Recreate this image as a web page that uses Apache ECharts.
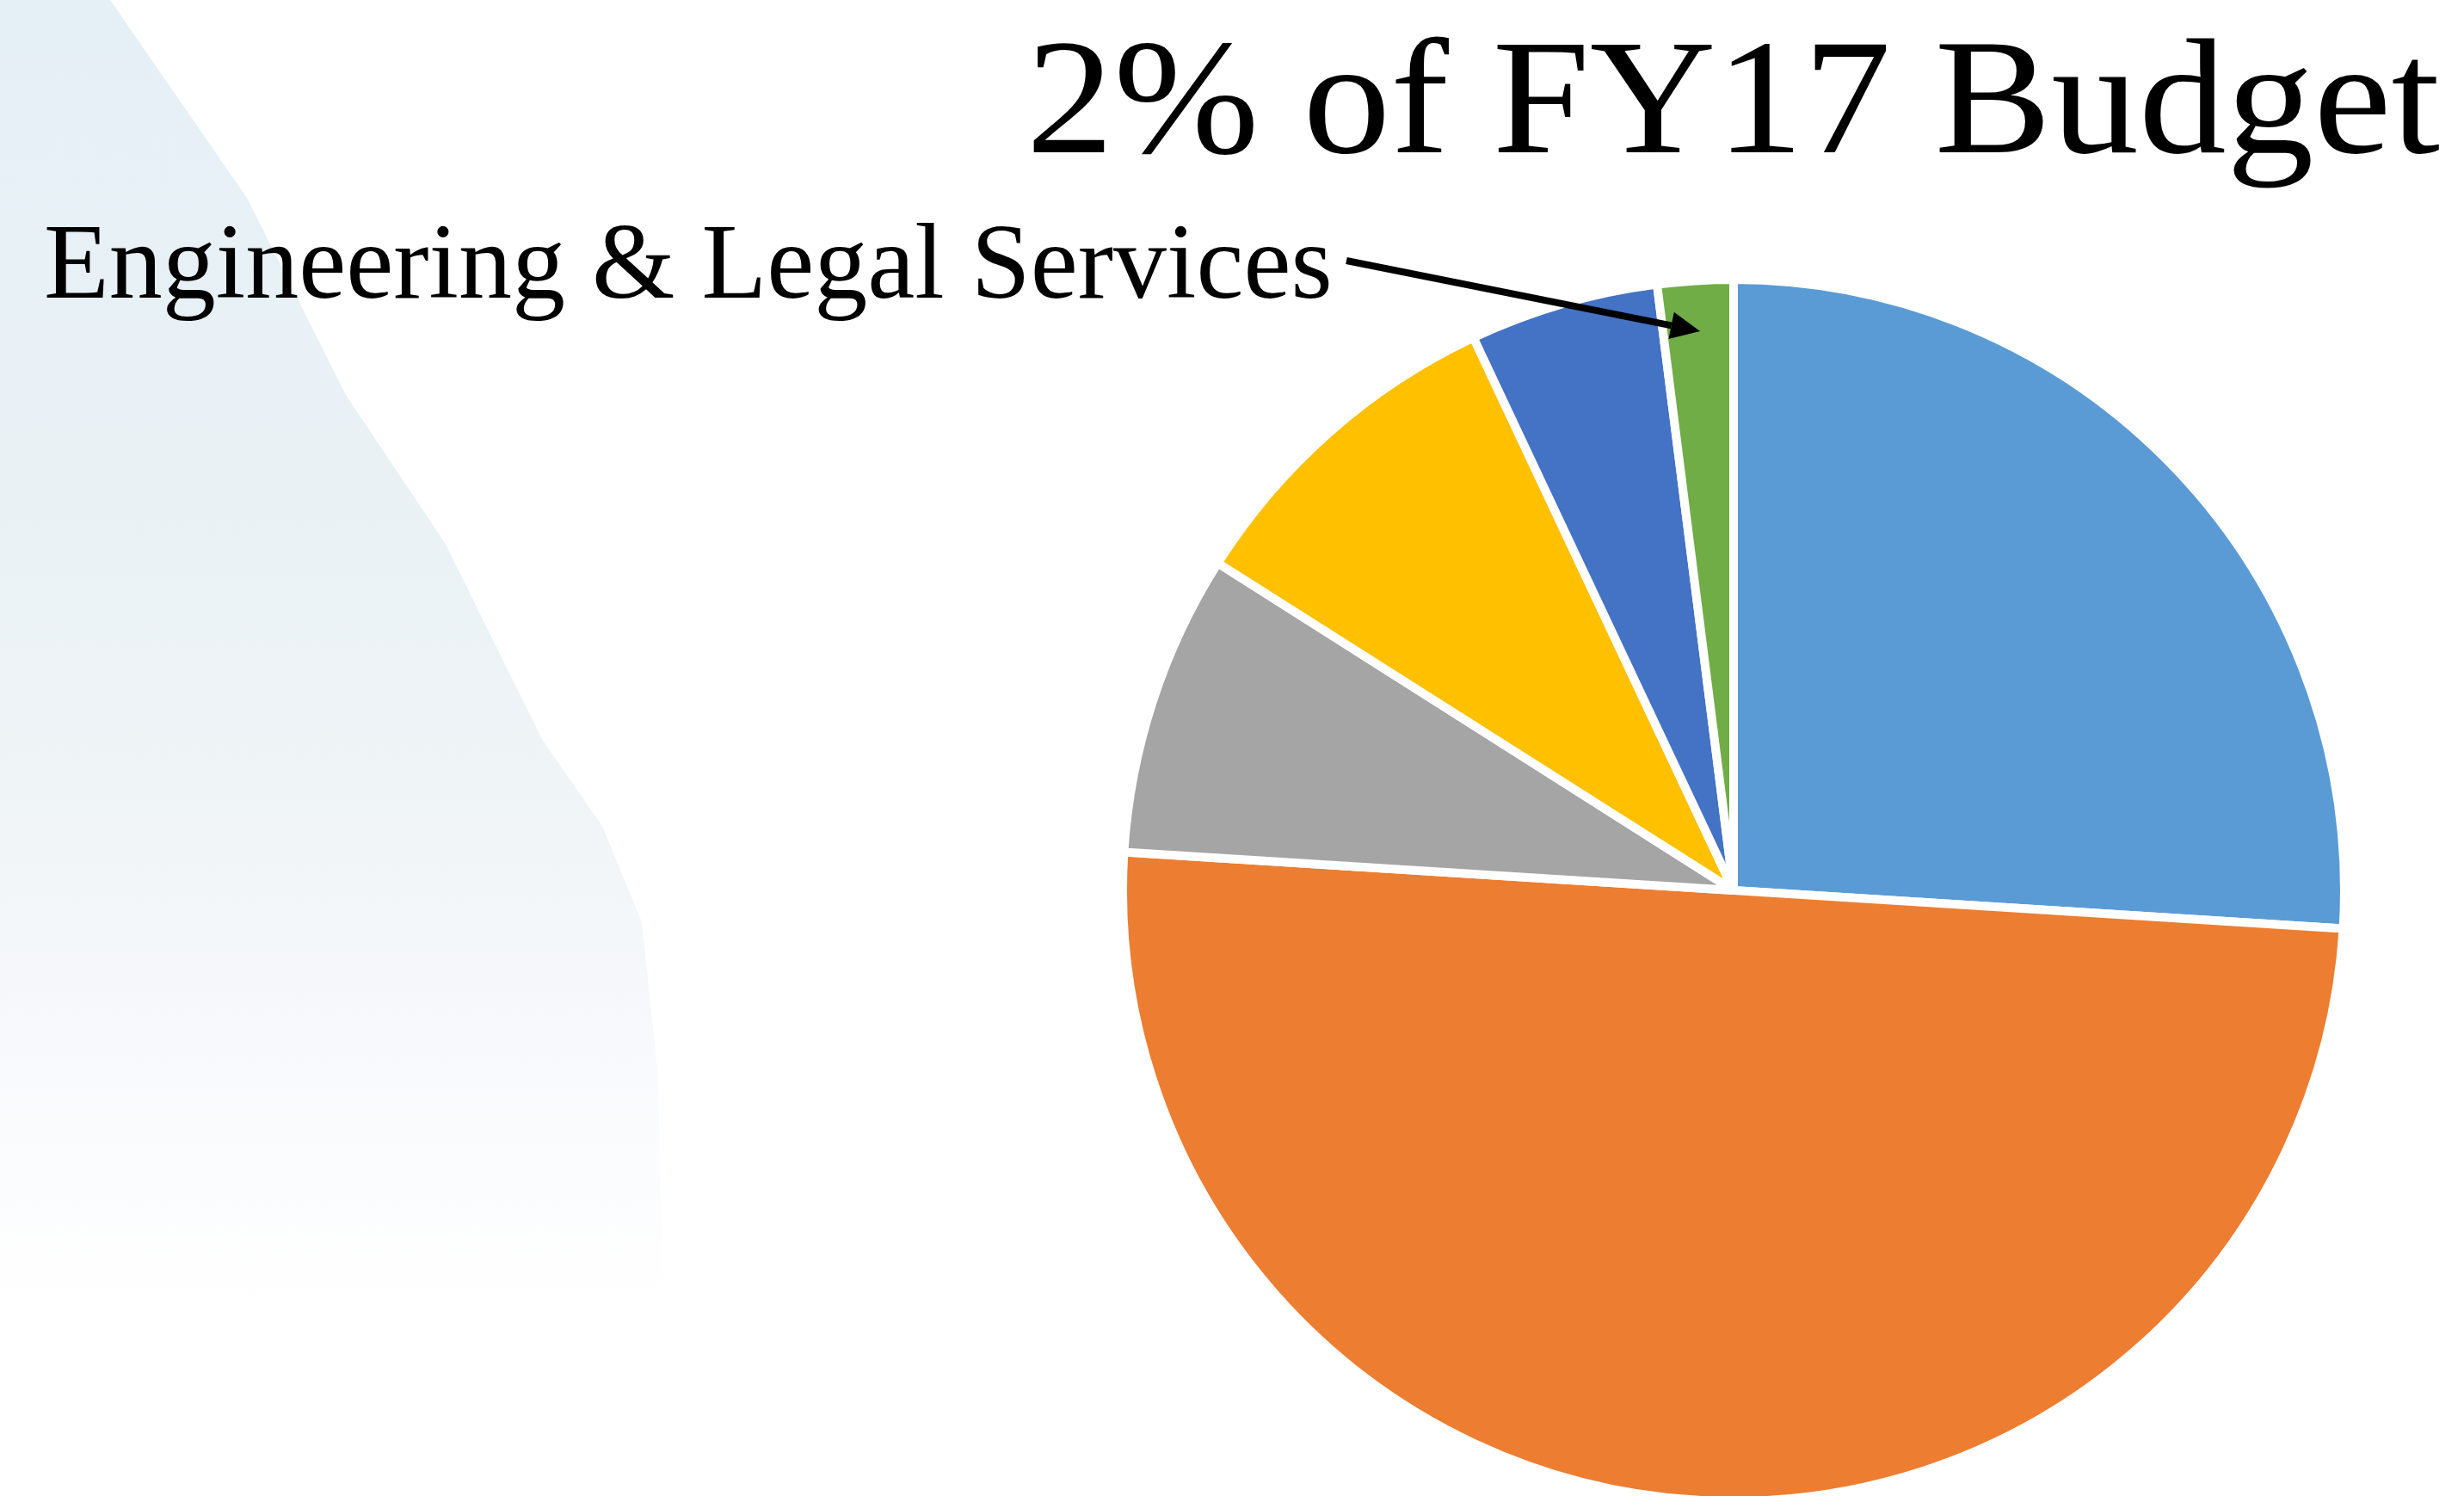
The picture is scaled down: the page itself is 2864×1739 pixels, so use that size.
<!DOCTYPE html>
<html>
<head>
<meta charset="utf-8">
<title>2% of FY17 Budget</title>
<script src="https://cdn.jsdelivr.net/npm/echarts@6/dist/echarts.min.js"></script>
<style>
  html, body { margin: 0; padding: 0; background: #fff; }
  #chart { width: 2864px; height: 1739px; }
</style>
</head>
<body>
<div id="chart"></div>
<script>
// slice shares (percent), clockwise from 12 o'clock
const sliceNames = ['Slice 1', 'Slice 2', 'Slice 3', 'Slice 4', 'Slice 5', 'Engineering & Legal Services']
const sliceValues = [26, 50, 8, 9, 5, 2]
const sliceColors = ['#5B9BD5', '#ED7D31', '#A5A5A5', '#FFC000', '#4472C4', '#70AD47']

const titleText = '2% of FY17 Budget'
const calloutText = 'Engineering & Legal Services'

const chart = echarts.init(document.getElementById('chart'))

// arrow from the callout text to the small green slice
const arrowStart = [1565, 303]
const arrowTip = [1976, 385]
const dx = arrowTip[0] - arrowStart[0]
const dy = arrowTip[1] - arrowStart[1]
const len = Math.sqrt(dx * dx + dy * dy)
const ux = dx / len, uy = dy / len
const headLen = 34, headHalf = 16
const base = [arrowTip[0] - ux * headLen, arrowTip[1] - uy * headLen]

const serif = '"Liberation Serif", "Times New Roman", serif'

chart.setOption({
  backgroundColor: '#ffffff',
  animation: false,
  graphic: [
    {
      // pale swoosh in the background on the left
      type: 'polygon',
      z: -10,
      silent: true,
      shape: {
        points: [[0, 0], [128, 0], [287, 230], [402, 459], [517, 631], [631, 861], [700, 960],
          [746, 1072], [765, 1250], [770, 1520], [0, 1520]]
      },
      style: {
        fill: new echarts.graphic.LinearGradient(0, 0, 0, 1, [
          { offset: 0, color: '#E5F0F6' },
          { offset: 0.35, color: '#E9F1F5' },
          { offset: 0.6, color: '#EFF4F7' },
          { offset: 0.72, color: '#F4F7FA' },
          { offset: 0.86, color: '#FAFBFD' },
          { offset: 1, color: '#FFFFFF' }
        ])
      }
    },
    {
      type: 'text',
      z: 100,
      x: 2836,
      y: 32,
      scaleX: 1.07,
      style: {
        text: titleText,
        font: '190px ' + serif,
        fill: '#000',
        align: 'right',
        verticalAlign: 'top'
      }
    },
    {
      type: 'text',
      z: 100,
      x: 51,
      y: 251,
      style: {
        text: calloutText,
        font: '124px ' + serif,
        fill: '#000',
        align: 'left',
        verticalAlign: 'top'
      }
    },
    {
      type: 'line',
      z: 100,
      shape: { x1: arrowStart[0], y1: arrowStart[1], x2: base[0], y2: base[1] },
      style: { stroke: '#000', lineWidth: 8 }
    },
    {
      type: 'polygon',
      z: 100,
      shape: {
        points: [
          arrowTip,
          [base[0] - uy * headHalf, base[1] + ux * headHalf],
          [base[0] + uy * headHalf, base[1] - ux * headHalf]
        ]
      },
      style: { fill: '#000' }
    }
  ],
  series: [
    {
      type: 'pie',
      center: [2015, 1035],
      radius: 710,
      startAngle: 90,
      clockwise: true,
      silent: true,
      label: { show: false },
      labelLine: { show: false },
      itemStyle: { borderColor: '#ffffff', borderWidth: 10 },
      data: sliceNames.map((name, i) => ({
        name,
        value: sliceValues[i],
        itemStyle: { color: sliceColors[i] }
      }))
    }
  ]
})
</script>
</body>
</html>
